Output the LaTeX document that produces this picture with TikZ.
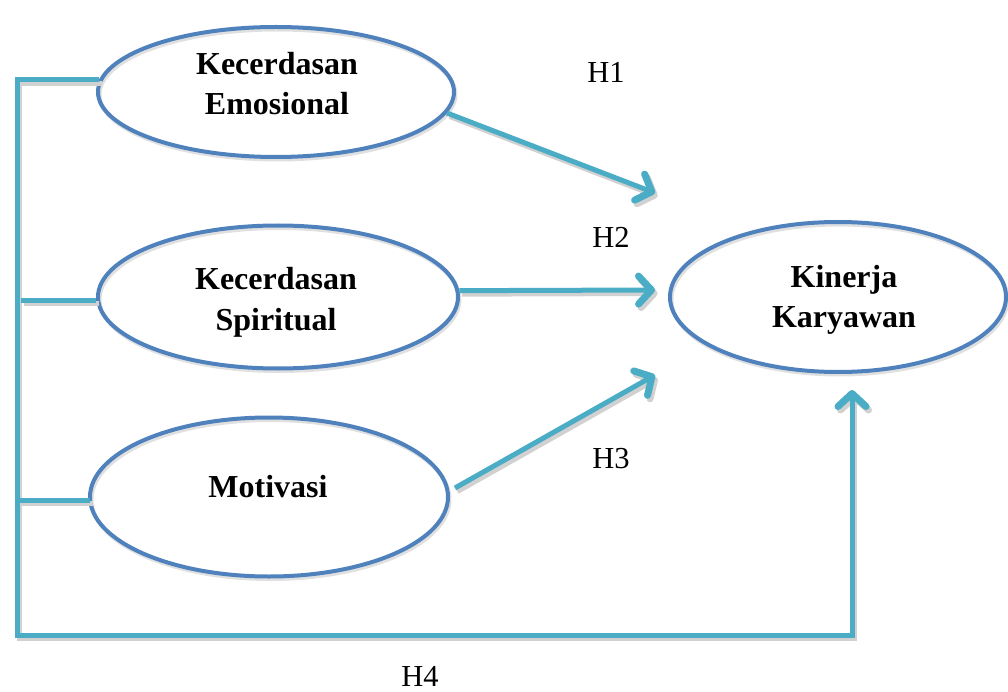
\documentclass[tikz,border=0pt]{standalone}
\usepackage{fontspec}
\setmainfont{Liberation Serif}
\usetikzlibrary{arrows.meta,shapes.geometric,calc}
\definecolor{ellblue}{HTML}{4F81BD}
\definecolor{lineaqua}{HTML}{4BACC6}
\tikzset{
  var/.style={ellipse, draw=ellblue, line width=4pt, inner sep=0pt,
    preaction={draw=black!12, line width=4pt, transform canvas={shift={(1.5pt,-2.5pt)}}}},
  vtext/.style={anchor=base, align=center, inner sep=0pt,
    font=\fontsize{32}{40}\selectfont\bfseries},
  conn/.style={draw=lineaqua, line width=5pt,
    preaction={draw=black!18, line width=5pt, transform canvas={shift={(2.5pt,-3.5pt)}}}},
  arr/.style={conn, -{Straight Barb[length=13pt,width=28pt,line width=2pt 1,round]}},
  hlabel/.style={anchor=base, inner sep=0pt, font=\fontsize{30.5}{34}\selectfont}
}
\begin{document}
\begin{tikzpicture}[x=1pt,y=-1pt]
\useasboundingbox (0,0) rectangle (1008,692);
\node[var, minimum width=356pt, minimum height=130pt] (e1) at (276,92) {};
\node[var, minimum width=360pt, minimum height=143pt] (e2) at (278,297) {};
\node[var, minimum width=358pt, minimum height=159pt] (e3) at (269,497) {};
\node[var, minimum width=336pt, minimum height=150pt] (e4) at (838,297) {};

\node[vtext] (l1) at (277,115) {Kecerdasan\\Emosional};
\node[vtext] (l2) at (276,330) {Kecerdasan\\Spiritual};
\node[vtext] (l3) at (268,497) {Motivasi};
\node[vtext] (l4) at (844,327) {Kinerja\\Karyawan};

\coordinate (t1) at (655,193);
\coordinate (t2) at (655,290);
\coordinate (t3) at (655,375);
\coordinate (s3) at (455,488);
\coordinate (tl) at (17,80);
\coordinate (bl) at (17,635);
\coordinate (br) at (852,635);
\coordinate (t4) at (852,390);
\coordinate (m2) at (21,300);
\coordinate (m3) at (17,500);

\draw[arr] (e1.-7) -- (t1);
\draw[arr] (e2.2) -- (t2);
\draw[arr] (s3) -- (t3);
\draw[arr] ($(e1.west |- tl)+(3,0)$) -- (tl) -- (bl) -- (br) -- (t4);
\draw[conn] (m2) -- (e2.west |- m2);
\draw[conn] (m3) -- ($(e3.west |- m3)+(2,0)$);

\node[hlabel] (h1) at (606,83) {H1};
\node[hlabel] (h2) at (611,248) {H2};
\node[hlabel] (h3) at (611,468) {H3};
\node[hlabel] (h4) at (420,686) {H4};
\end{tikzpicture}
\end{document}
